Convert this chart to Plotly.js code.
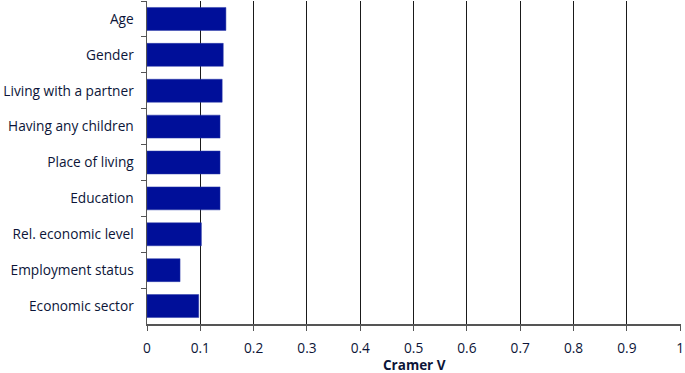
<!DOCTYPE html>
<html><head><meta charset="utf-8">
<script src="https://cdn.plot.ly/plotly-3.0.1.min.js"></script>
<style>html,body{margin:0;padding:0;background:#fff}#chart{width:685px;height:373px}</style>
</head><body><div id="chart"></div>
<script>
const categories = ["Age","Gender","Living with a partner","Having any children","Place of living","Education","Rel. economic level","Employment status","Economic sector"];
const cramerV = [0.148, 0.143, 0.141, 0.137, 0.137, 0.137, 0.102, 0.062, 0.097];
const xTicks = [0,0.1,0.2,0.3,0.4,0.5,0.6,0.7,0.8,0.9,1];
const xTickLabels = ["0","0.1","0.2","0.3","0.4","0.5","0.6","0.7","0.8","0.9","1"];
const xTitle = "Cramer V";

const txt = '#0c1538';
Plotly.newPlot('chart', [{
  type: 'bar', orientation: 'h',
  y: categories, x: cramerV,
  marker: {color: '#000f99', line: {color: '#2a3aa8', width: 0.5}},
  hoverinfo: 'none'
}], {
  width: 685, height: 373,
  margin: {l: 147, r: 4, t: 1, b: 49},
  paper_bgcolor: '#fff', plot_bgcolor: '#fff',
  bargap: 0.36,
  font: {family: '"Open Sans", sans-serif', size: 13.7, color: txt},
  xaxis: {
    range: [0, 1.0015], tickvals: xTicks, ticktext: xTickLabels,
    showgrid: true, gridcolor: '#1a1a1a', gridwidth: 1,
    zeroline: false, showline: true, linecolor: '#555', linewidth: 1.5,
    ticks: 'outside', ticklen: 5, tickcolor: '#555',
    ticklabelstandoff: 6,
    tickfont: {size: 13.7, color: txt}
  },
  yaxis: {
    autorange: 'reversed', type: 'category',
    showline: true, linecolor: '#555', linewidth: 1.5,
    ticks: 'outside', ticklen: 5, tickcolor: '#555', tickson: 'boundaries',
    ticklabelstandoff: 9,
    showgrid: false, tickfont: {size: 13.7, color: txt}
  },
  annotations: [{
    text: '<b>' + xTitle + '</b>', xref: 'paper', yref: 'paper',
    x: 0.5, y: -0.127, xanchor: 'center', yanchor: 'middle', showarrow: false,
    borderpad: 0, font: {size: 13.5, color: txt}
  }],
  showlegend: false
}, {displayModeBar: false, staticPlot: true});
</script></body></html>
